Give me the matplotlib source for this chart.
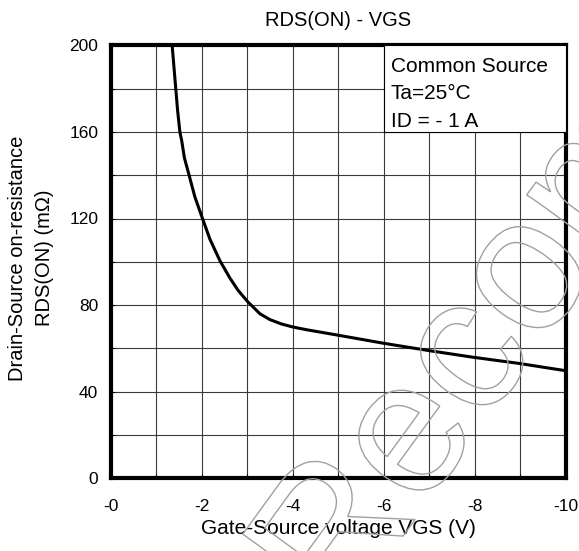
import matplotlib
matplotlib.use("Agg")
import matplotlib.pyplot as plt
import matplotlib.patheffects as pe
from matplotlib.patches import Rectangle

plt.rcParams["font.family"] = ["Liberation Sans", "DejaVu Sans"]

# curve: |VGS| (V) vs RDS(ON) (mOhm)
vgs = [1.35, 1.39, 1.43, 1.47, 1.52, 1.56, 1.62, 1.71, 1.85, 2.0, 2.18, 2.40, 2.62, 2.80,
       3.01, 3.28, 3.5, 3.75, 4.0, 4.31, 4.97, 5.99, 7.02, 7.97, 8.96, 10.0]
rds = [200, 190, 180, 170, 160, 156, 148, 141, 130, 121, 110.5, 100.5, 92.5, 86.8,
       81.6, 76.0, 73.3, 71.3, 69.9, 68.6, 66.2, 62.4, 58.9, 55.9, 53.1, 49.7]

x_ticks = [0, -2, -4, -6, -8, -10]
x_tick_labels = ["-0", "-2", "-4", "-6", "-8", "-10"]
y_ticks = [0, 40, 80, 120, 160, 200]
box_lines = ["Common Source", "Ta=25°C", "ID = - 1 A"]

W, H = 579, 551
fig = plt.figure(figsize=(W / 100, H / 100), dpi=100)
ax = fig.add_axes([110.7 / W, 1 - 478.3 / H, 455 / W, 433 / H])

ax.plot([-v for v in vgs], rds, color="black", lw=2.2, zorder=4)

ax.set_xlim(0, -10)
ax.set_ylim(0, 200)
ax.set_xticks(range(0, -11, -1))
ax.set_yticks(range(0, 201, 20))
ax.grid(True, color="#3a3a3a", lw=0.8)
ax.set_xticklabels([x_tick_labels[x_ticks.index(t)] if t in x_ticks else "" for t in range(0, -11, -1)])
ax.set_yticklabels([str(t) if t in y_ticks else "" for t in range(0, 201, 20)])
ax.tick_params(direction="in", length=3, width=0.8, labelsize=12.5)
ax.tick_params(axis="x", pad=15)
ax.tick_params(axis="y", pad=9)
for s in ax.spines.values():
    s.set_linewidth(3)

# condition box in the upper right corner
ax.add_patch(Rectangle((-6, 160), -4, 40, facecolor="white", edgecolor="black",
                       lw=0.8, zorder=5, clip_on=False))
for i, line in enumerate(box_lines):
    ax.text(-6.15, 190.3 - i * 12.7, line, fontsize=15, va="center", ha="left", zorder=6)

fig.text(338 / W, 1 - 21 / H, "RDS(ON) - VGS", fontsize=14.5, ha="center", va="center")
fig.text(338 / W, 1 - 528 / H, "Gate-Source voltage VGS (V)", fontsize=15, ha="center", va="center")
fig.text(31 / W, 1 - 258 / H, "Drain-Source on-resistance\nRDS(ON) (mΩ)", fontsize=14.5,
         ha="center", va="center", rotation=90, linespacing=1.55)

# faint outlined watermark
fig.text(477 / W, 1 - 351 / H, "Recom", fontsize=137, ha="center", va="center", rotation=54,
         color="none", zorder=10,
         path_effects=[pe.Stroke(linewidth=1.0, foreground="#a0a0a0")])

fig.savefig("out.png", dpi=100)
